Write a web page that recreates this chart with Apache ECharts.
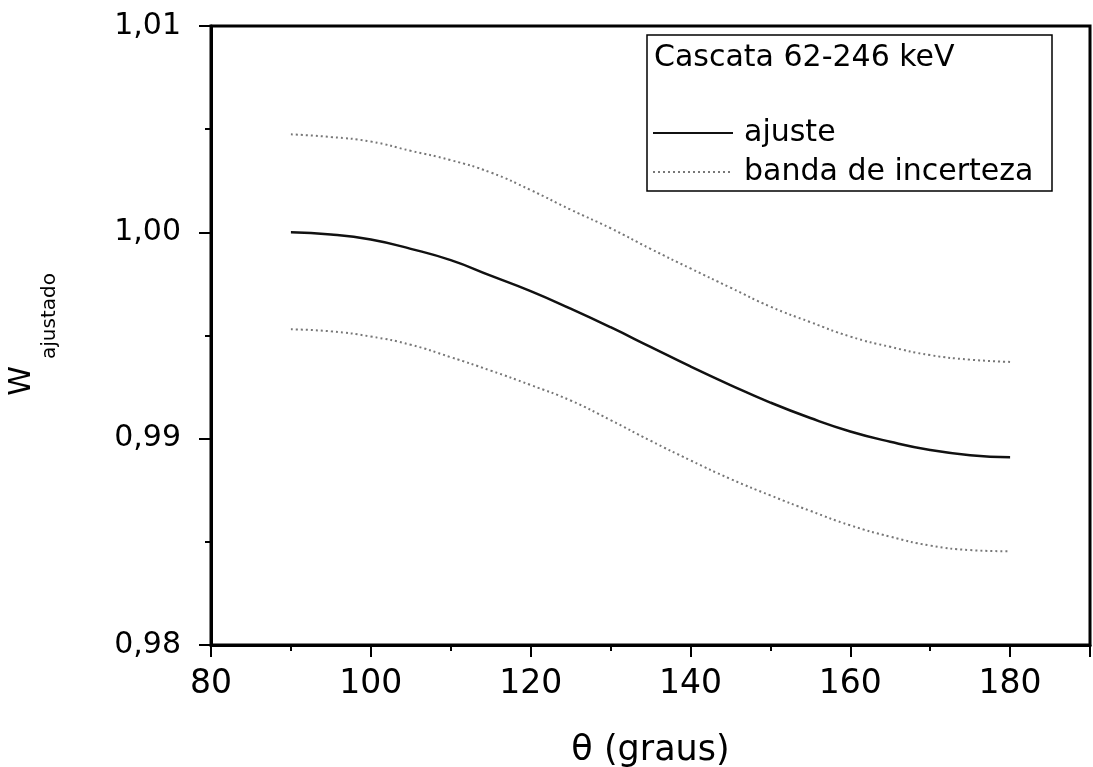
<!DOCTYPE html>
<html>
<head>
<meta charset="utf-8">
<title>W ajustado x theta</title>
<script src="https://cdn.jsdelivr.net/npm/echarts@6.0.0/dist/echarts.min.js"></script>
<style>
  html, body { margin: 0; padding: 0; background: #fff; }
  #chart { width: 1093px; height: 767px; }
</style>
</head>
<body>
<div id="chart"></div>
<script>
// angulos (graus) onde as curvas foram lidas
const theta = [90, 95, 100, 105, 110, 115, 120, 125, 130, 135, 140, 145, 150, 155, 160, 165, 170, 175, 180];

// curva ajustada
const ajuste = [1.00000, 0.99990, 0.99965, 0.99920, 0.99865, 0.99790, 0.99715, 0.99630, 0.99540, 0.99445,
                0.99350, 0.99260, 0.99175, 0.99100, 0.99035, 0.98985, 0.98945, 0.98920, 0.98910];

// banda de incerteza (limite superior e inferior)
const bandaSup = [1.00475, 1.00462, 1.00440, 1.00395, 1.00350, 1.00290, 1.00205, 1.00110, 1.00020, 0.99920,
                  0.99825, 0.99732, 0.99640, 0.99565, 0.99495, 0.99445, 0.99405, 0.99383, 0.99372];
const bandaInf = [0.99530, 0.99520, 0.99495, 0.99455, 0.99395, 0.99330, 0.99260, 0.99185, 0.99090, 0.98990,
                  0.98895, 0.98805, 0.98725, 0.98650, 0.98580, 0.98525, 0.98482, 0.98460, 0.98454];

const titulo = 'Cascata 62-246 keV';
const font = 'DejaVu Sans';

function pares(ys) {
    return theta.map((t, i) => [t, ys[i]]);
}

const chart = echarts.init(document.getElementById('chart'));

const bandaStyle = { color: '#777', width: 2, type: [2, 3] };

const option = {
    backgroundColor: '#fff',
    animation: false,
    grid: {
        left: 211, right: 3, top: 26, bottom: 122,
        show: true, borderColor: '#000', borderWidth: 3,
        containLabel: false, outerBoundsMode: 'none'
    },
    legend: {
        orient: 'vertical',
        left: 652, top: 118,
        padding: 0,
        itemWidth: 80, itemHeight: 14, itemGap: 9,
        itemStyle: { opacity: 0 },
        textStyle: { fontFamily: font, fontSize: 30, lineHeight: 30, color: '#000', padding: [0, 0, 0, 6] },
        data: ['ajuste', 'banda de incerteza']
    },
    xAxis: {
        type: 'value',
        min: 80, max: 190, interval: 20,
        name: 'θ (graus)',
        nameLocation: 'middle',
        nameGap: 88,
        nameTextStyle: { fontFamily: font, fontSize: 35, color: '#000' },
        axisLine: { lineStyle: { color: '#000', width: 3 } },
        axisTick: { length: 12, lineStyle: { color: '#000', width: 2 } },
        minorTick: { show: true, splitNumber: 2, length: 6, lineStyle: { color: '#000', width: 2 } },
        axisLabel: { fontFamily: font, fontSize: 33, color: '#000', margin: 23, showMaxLabel: false },
        splitLine: { show: false }
    },
    yAxis: {
        type: 'value',
        min: 0.98, max: 1.01, interval: 0.01,
        axisLine: { show: true, lineStyle: { color: '#000', width: 3 } },
        axisTick: { show: true, length: 12, lineStyle: { color: '#000', width: 2 } },
        minorTick: { show: true, splitNumber: 2, length: 6, lineStyle: { color: '#000', width: 2 } },
        axisLabel: {
            fontFamily: font, fontSize: 30, color: '#000', margin: 30,
            formatter: v => v.toFixed(2).replace('.', ',')
        },
        splitLine: { show: false }
    },
    graphic: [
        {
            type: 'rect',
            shape: { x: 647, y: 35, width: 405, height: 156 },
            style: { fill: 'none', stroke: '#000', lineWidth: 1.5 },
            z: 10
        },
        {
            type: 'text',
            left: 654, top: 43,
            style: { text: titulo, font: '30px "DejaVu Sans"', fill: '#000' },
            z: 10
        },
        {
            // titulo do eixo y: W com subscrito, girado
            type: 'group',
            x: 22, y: 381,
            rotation: Math.PI / 2,
            children: [
                {
                    type: 'text',
                    x: 0, y: 0,
                    style: { text: 'W', font: '30px "DejaVu Sans"', fill: '#000', align: 'center', verticalAlign: 'middle' }
                },
                {
                    type: 'text',
                    x: 65, y: 28,
                    style: { text: 'ajustado', font: '20px "DejaVu Sans"', fill: '#000', align: 'center', verticalAlign: 'middle' }
                }
            ]
        }
    ],
    series: [
        {
            name: 'ajuste',
            type: 'line',
            smooth: true,
            symbol: 'none',
            lineStyle: { color: '#111', width: 2.5 },
            itemStyle: { color: '#111' },
            data: pares(ajuste)
        },
        {
            name: 'banda de incerteza',
            type: 'line',
            smooth: true,
            symbol: 'none',
            lineStyle: bandaStyle,
            itemStyle: { color: '#777' },
            data: pares(bandaSup)
        },
        {
            name: 'banda de incerteza',
            type: 'line',
            smooth: true,
            symbol: 'none',
            lineStyle: bandaStyle,
            itemStyle: { color: '#777' },
            data: pares(bandaInf)
        }
    ]
};

chart.setOption(option);
</script>
</body>
</html>
